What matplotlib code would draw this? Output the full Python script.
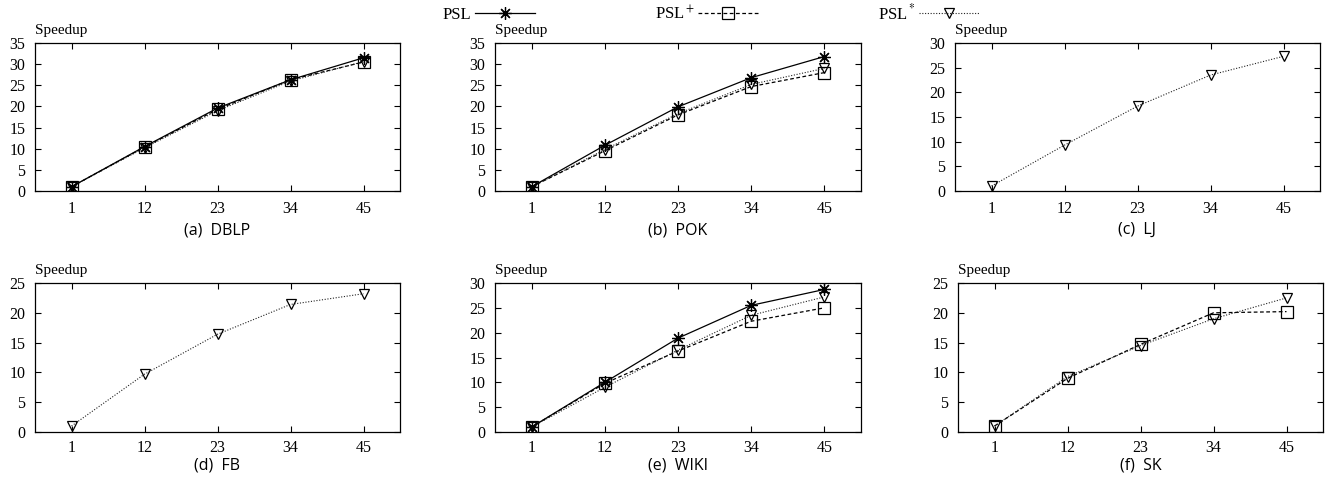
import numpy as np
import matplotlib
matplotlib.use('Agg')
from matplotlib import pyplot as plt
from matplotlib.lines import Line2D

plt.rcParams['font.family'] = 'Liberation Serif'
plt.rcParams['mathtext.fontset'] = 'stix'

threads = [1, 12, 23, 34, 45]

# speedup per dataset (None = series not shown)
dblp_psl = [1, 10.5, 19.6, 26.3, 31.5]
dblp_plus = [1, 10.4, 19.3, 26.3, 30.5]
dblp_star = [1, 10.2, 19.0, 26.0, 30.6]

pok_psl = [1, 10.8, 19.9, 26.8, 31.8]
pok_plus = [1, 9.5, 18.0, 24.7, 28.0]
pok_star = [1, 9.8, 18.3, 25.2, 29.0]

lj_star = [1, 9.3, 17.2, 23.5, 27.3]

fb_star = [1, 9.7, 16.4, 21.4, 23.2]

wiki_psl = [1, 10.0, 18.9, 25.5, 28.7]
wiki_plus = [1, 9.8, 16.3, 22.3, 25.0]
wiki_star = [1, 9.0, 16.5, 23.5, 27.2]

sk_plus = [1, 9.0, 14.7, 20.0, 20.2]
sk_star = [1, 9.3, 14.5, 19.0, 22.5]

captions = ['(a)  DBLP', '(b)  POK', '(c)  LJ', '(d)  FB', '(e)  WIKI', '(f)  SK']
ymax = [35, 35, 30, 25, 30, 25]
panels = [
    (dblp_psl, dblp_plus, dblp_star),
    (pok_psl, pok_plus, pok_star),
    (None, None, lj_star),
    (None, None, fb_star),
    (wiki_psl, wiki_plus, wiki_star),
    (None, sk_plus, sk_star),
]

W, H = 1326, 484
fig = plt.figure(figsize=(W / 100, H / 100), dpi=100)

# axes boxes in pixels: left, right, top, bottom
boxes = [(35, 400, 43, 191), (495, 861, 43, 191), (955, 1320, 43, 191),
         (35, 400, 283, 432), (495, 861, 283, 432), (958, 1323, 283, 432)]
cap_y = [230, 230, 230, 466, 466, 466]

psl_style = dict(color='black', lw=0.9, ls='-', marker=(8, 2, 0), ms=9,
                 mew=0.9, mfc='none')
plus_style = dict(color='black', lw=0.9, ls=(0, (3, 2)), marker='s', ms=8,
                  mew=0.9, mfc='none')
star_style = dict(color='#222222', lw=0.8, ls=(0, (1, 1.5)), marker='v', ms=7.5,
                  mew=0.9, mfc='none', mec='black')

for i, (l, r, t, b) in enumerate(boxes):
    ax = fig.add_axes([l / W, 1 - b / H, (r - l) / W, (b - t) / H])
    psl, plus, star = panels[i]
    if psl is not None:
        ax.plot(threads, psl, **psl_style, zorder=3)
    if plus is not None:
        ax.plot(threads, plus, **plus_style, zorder=2)
    if star is not None:
        ax.plot(threads, star, **star_style, zorder=2)
    ax.set_xlim(-4.5, 50.5)
    ax.set_ylim(0, ymax[i])
    ax.set_xticks(threads)
    ax.set_yticks(np.arange(0, ymax[i] + 1, 5))
    ax.tick_params(direction='in', top=True, right=True, length=4,
                   width=0.8, labelsize=11.5)
    ax.tick_params(axis='x', pad=7 if i < 3 else 6)
    ax.tick_params(axis='y', pad=7)
    for s in ax.spines.values():
        s.set_linewidth(0.9)
    ax.text(0.0, 1.04, 'Speedup', transform=ax.transAxes, ha='left',
            va='bottom', fontsize=11)
    fig.text((l + r) / 2 / W, 1 - cap_y[i] / H, captions[i], ha='center',
             va='center', fontsize=11.5, family='Open Sans')

handles = [Line2D([], [], **psl_style), Line2D([], [], **plus_style),
           Line2D([], [], **star_style)]
fig.legend(handles, ['PSL', 'PSL$^+$', 'PSL$^*$'], ncol=3, markerfirst=False,
           loc='center left', bbox_to_anchor=(443 / W, 1 - 13 / H),
           frameon=False, fontsize=12, handlelength=3.6, handletextpad=0.2,
           columnspacing=7.2, borderpad=0, borderaxespad=0)

fig.savefig('out.png', dpi=100)
